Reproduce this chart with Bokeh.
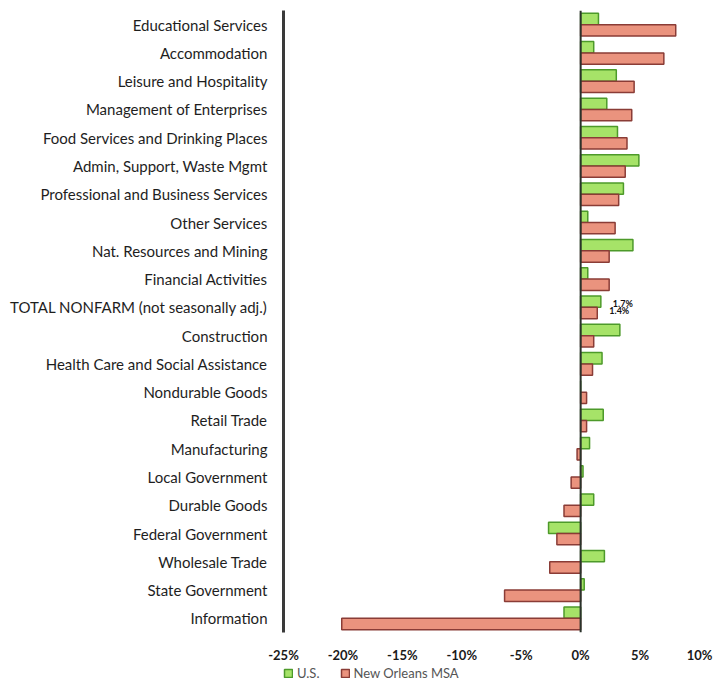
from bokeh.plotting import figure
from bokeh.layouts import column
from bokeh.models import FactorRange, Span, Legend, LegendItem, FixedTicker, ColumnDataSource
from bokeh.transform import dodge
from bokeh.embed import file_html
from bokeh.resources import INLINE
from bokeh.core.properties import value

categories = [
    "Educational Services",
    "Accommodation",
    "Leisure and Hospitality",
    "Management of Enterprises",
    "Food Services and Drinking Places",
    "Admin, Support, Waste Mgmt",
    "Professional and Business Services",
    "Other Services",
    "Nat. Resources and Mining",
    "Financial Activities",
    "TOTAL NONFARM (not seasonally adj.)",
    "Construction",
    "Health Care and Social Assistance",
    "Nondurable Goods",
    "Retail Trade",
    "Manufacturing",
    "Local Government",
    "Durable Goods",
    "Federal Government",
    "Wholesale Trade",
    "State Government",
    "Information",
]
us = [1.5, 1.1, 3.0, 2.2, 3.1, 4.9, 3.6, 0.6, 4.4, 0.6, 1.7, 3.3, 1.8, 0.0, 1.9, 0.75, 0.2, 1.1, -2.7, 2.0, 0.3, -1.4]
nola = [8.0, 7.0, 4.5, 4.3, 3.9, 3.75, 3.2, 2.9, 2.4, 2.4, 1.4, 1.1, 1.0, 0.5, 0.5, -0.3, -0.8, -1.4, -2.0, -2.6, -6.4, -20.1]
ticks = [-25, -20, -15, -10, -5, 0, 5, 10]
tick_labels = ["-25%", "-20%", "-15%", "-10%", "-5%", "0%", "5%", "10%"]
series_names = ["U.S.", "New Orleans MSA"]
total_cat = "TOTAL NONFARM (not seasonally adj.)"
total_labels = ["1.7%", "1.4%"]

FONT = "Lato"
US_FILL, US_LINE = "#a6e368", "#4d9a2a"
NO_FILL, NO_LINE = "#ea937e", "#8a3c36"

src = ColumnDataSource(dict(cat=categories, us=us, nola=nola))

p = figure(
    y_range=FactorRange(factors=categories[::-1]),
    x_range=(ticks[0], ticks[-1]),
    frame_width=416, frame_height=622,
    min_border_left=283, min_border_right=14, min_border_top=10, min_border_bottom=32,
    output_backend="svg", toolbar_location=None,
)
p.outline_line_color = None
p.xgrid.grid_line_color = None
p.ygrid.grid_line_color = None

r_us = p.hbar(y=dodge("cat", 0.2, range=p.y_range), left=0, right="us", height=0.4,
              fill_color=US_FILL, line_color=US_LINE, line_width=1.5, source=src)
r_no = p.hbar(y=dodge("cat", -0.2, range=p.y_range), left=0, right="nola", height=0.4,
              fill_color=NO_FILL, line_color=NO_LINE, line_width=1.5, source=src)

p.add_layout(Span(location=0, dimension="height", line_color="#2b332b", line_width=2))

idx = categories.index(total_cat)
s1 = ColumnDataSource(dict(x=[us[idx]], cat=[total_cat], t=[total_labels[0]]))
s2 = ColumnDataSource(dict(x=[nola[idx]], cat=[total_cat], t=[total_labels[1]]))
for s, off in ((s1, 0.12), (s2, -0.12)):
    p.text(x="x", y=dodge("cat", off, range=p.y_range), text="t", source=s,
           x_offset=12, text_font=value(FONT), text_font_size="9px", text_font_style="bold",
           text_baseline="middle", text_color="#111111")

ya = p.yaxis[0]
ya.axis_line_color = "#3a3a3a"
ya.axis_line_width = 3
ya.major_tick_line_color = None
ya.minor_tick_line_color = None
ya.major_label_standoff = 10
ya.major_label_text_font = FONT
ya.major_label_text_font_size = "15px"
ya.major_label_text_color = "#1e1e1e"

xa = p.xaxis[0]
xa.ticker = FixedTicker(ticks=ticks)
xa.major_label_overrides = {t: l for t, l in zip(ticks, tick_labels)}
xa.axis_line_color = None
xa.major_tick_line_color = None
xa.minor_tick_line_color = None
xa.major_label_standoff = 8
xa.major_label_text_font = FONT
xa.major_label_text_font_size = "13px"
xa.major_label_text_font_style = "bold"
xa.major_label_text_color = "#1a1a1a"

# legend strip below the chart (its frame lines up with the chart frame)
lg = figure(width=713, height=19, x_range=(0, 1), y_range=(0, 1),
            x_axis_location=None, y_axis_location=None,
            min_border_left=283, min_border_right=14, min_border_top=0, min_border_bottom=0,
            output_backend="svg", toolbar_location=None)
lg.outline_line_color = None
lg.xgrid.grid_line_color = None
lg.ygrid.grid_line_color = None
hidden = ColumnDataSource(dict(y=[-5], r=[-5]))
g1 = lg.hbar(y="y", left=-6, right="r", height=0.4, fill_color=US_FILL, line_color=US_LINE,
             line_width=1.5, source=hidden)
g2 = lg.hbar(y="y", left=-6, right="r", height=0.4, fill_color=NO_FILL, line_color=NO_LINE,
             line_width=1.5, source=hidden)
legend = Legend(items=[LegendItem(label=series_names[0], renderers=[g1], index=0),
                       LegendItem(label=series_names[1], renderers=[g2], index=0)],
                orientation="horizontal", location=(0, 3),
                border_line_color=None, background_fill_alpha=0,
                label_text_font=FONT, label_text_font_size="13px", label_text_color="#555555",
                label_height=12, glyph_width=10, glyph_height=10, spacing=20, padding=0, margin=0,
                label_standoff=4)
lg.add_layout(legend, "center")

open("out.html", "w").write(file_html(column(p, lg, spacing=0), INLINE))
